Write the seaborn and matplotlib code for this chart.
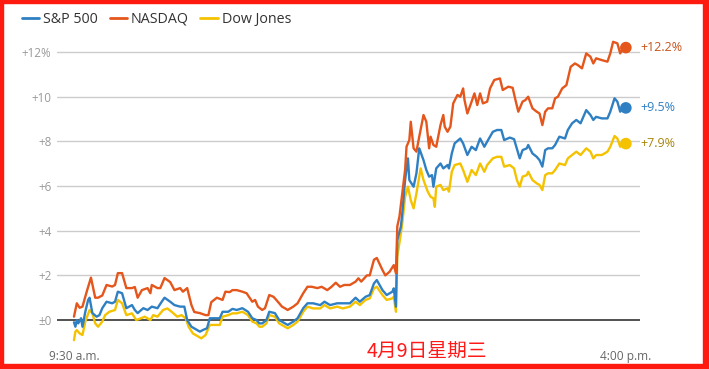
import matplotlib
matplotlib.use("Agg")
import matplotlib.pyplot as plt
import seaborn as sns
import pandas as pd
from matplotlib.lines import Line2D
from matplotlib.patches import Rectangle

# ---------------- data (minutes after 9:30 a.m., % change) ----------------
series_names = ["S&P 500", "NASDAQ", "Dow Jones"]
colors = {"S&P 500": "#2f80c3", "NASDAQ": "#e4561b", "Dow Jones": "#f5c200"}
label_colors = {"S&P 500": "#2f80c3", "NASDAQ": "#c8541c", "Dow Jones": "#a8860a"}

nasdaq_t = [0, 2, 4, 6, 9, 12, 15, 17, 20, 23, 27, 29, 31, 34, 37, 41, 43, 45, 48, 52,
            54, 55, 59, 61, 64, 68, 71, 75, 77, 80, 83, 85, 89, 93, 95, 97, 101, 105, 107, 110,
            112, 115, 119, 122, 126, 128, 130, 133, 135, 138, 141, 143, 147, 149, 151, 155, 158, 162, 165, 168,
            172, 175, 179, 182, 185, 188, 191, 195, 199, 201, 203, 207, 209, 212, 214, 218, 220, 223, 226, 227.5,
            228.5, 230, 232, 234, 235, 237, 238, 240, 242, 244, 247, 249, 251, 252, 254, 256, 259, 261, 262, 264,
            266, 268, 271, 273, 275, 276, 278, 281, 283, 285, 287, 289, 292, 294, 297, 301, 303, 307, 310, 312,
            314, 317, 319, 321, 324, 327, 329, 331, 333, 335, 338, 340, 342, 345, 348, 351, 354, 356, 359, 362,
            365, 367, 369, 373, 377, 379, 381, 384, 386, 388, 390]
nasdaq_v = [0.15, 0.75, 0.55, 0.6, 1.27, 1.9, 1.0, 1.0, 1.1, 1.57, 1.5, 1.57, 2.1, 2.1, 1.43, 1.43, 1.48, 1.0, 1.34, 1.43,
            1.2, 1.57, 1.43, 1.43, 1.88, 1.7, 1.34, 1.43, 1.27, 1.43, 0.67, 0.36, 0.31, 0.22, 0.22, 0.8, 1.0, 0.9, 1.27, 1.25,
            1.34, 1.34, 1.27, 1.2, 0.82, 0.9, 0.6, 0.45, 0.53, 1.12, 1.04, 0.9, 0.6, 0.53, 0.45, 0.6, 0.75, 1.2, 1.49, 1.49,
            1.43, 1.49, 1.34, 1.49, 1.67, 1.49, 1.57, 1.57, 1.72, 1.87, 1.72, 2.0, 2.0, 2.7, 2.78, 2.24, 2.0, 2.16, 2.46, 2.1,
            4.2, 4.63, 5.68, 6.72, 7.76, 8.06, 8.88, 7.69, 7.54, 8.21, 9.18, 8.88, 7.69, 8.21, 7.84, 7.76, 8.73, 9.18, 8.66, 8.43,
            8.66, 9.7, 10.08, 10.0, 10.37, 9.85, 9.25, 9.78, 10.15, 9.63, 10.15, 9.7, 9.78, 10.37, 10.75, 10.82, 10.3, 10.45, 10.4, 9.85,
            9.33, 9.78, 9.85, 10.0, 9.48, 9.33, 9.25, 8.73, 9.33, 9.48, 9.48, 9.93, 10.0, 10.37, 10.52, 11.34, 11.49, 11.42, 11.27, 11.94,
            11.79, 11.49, 11.72, 11.64, 11.57, 11.94, 12.46, 12.39, 11.94, 12.17, 12.2]

sp_t = [0, 1, 2, 3, 5, 6, 8, 10, 11, 13, 16, 18, 20, 23, 27, 29, 31, 34, 37, 41,
        43, 45, 49, 52, 55, 59, 62, 64, 68, 71, 75, 78, 80, 83, 87, 89, 91, 94, 96, 100,
        103, 105, 109, 112, 115, 119, 123, 126, 129, 131, 133, 136, 138, 142, 145, 149, 151, 155, 158, 162,
        165, 169, 174, 177, 181, 186, 190, 195, 199, 202, 206, 209, 212, 214, 218, 221, 225, 226, 227.5, 228.5,
        231, 232, 234, 236, 237, 240, 242, 244, 247, 249, 251, 253, 254, 256, 259, 261, 264, 265, 267, 269,
        273, 275, 278, 281, 284, 287, 290, 292, 296, 299, 302, 304, 308, 311, 314, 315, 317, 320, 321, 324,
        327, 329, 331, 333, 335, 338, 340, 343, 347, 349, 352, 355, 358, 362, 365, 367, 369, 373, 377, 379,
        382, 384, 386, 388, 390]
sp_v = [-0.1, -0.3, 0.0, -0.15, 0.08, -0.3, 0.37, 0.9, 1.0, 0.31, 0.15, 0.22, 0.53, 0.82, 0.75, 0.82, 1.27, 1.2, 0.53, 0.67,
        0.45, 0.31, 0.53, 0.45, 0.6, 0.53, 0.82, 1.0, 0.82, 0.67, 0.6, 0.6, 0.0, -0.3, -0.45, -0.52, -0.45, -0.37, 0.08, 0.08,
        0.08, 0.37, 0.37, 0.5, 0.45, 0.53, 0.37, 0.08, 0.0, -0.15, -0.15, 0.0, 0.37, 0.31, 0.0, -0.15, -0.22, -0.07, 0.08, 0.53,
        0.75, 0.75, 0.67, 0.82, 0.67, 0.75, 0.75, 0.75, 1.0, 0.82, 1.04, 1.12, 1.64, 1.79, 1.34, 1.12, 1.27, 1.42, 0.6, 3.58,
        4.18, 4.78, 6.27, 7.24, 6.27, 5.97, 6.57, 7.69, 7.16, 6.72, 6.42, 6.49, 5.97, 6.79, 7.01, 6.79, 6.94, 6.79, 7.46, 7.91,
        8.13, 7.91, 7.39, 7.76, 7.61, 8.13, 7.76, 7.99, 8.43, 8.51, 8.51, 8.06, 8.17, 8.1, 7.46, 7.24, 7.61, 7.69, 7.84, 7.46,
        7.31, 7.16, 6.87, 7.61, 7.69, 7.69, 7.84, 8.21, 8.13, 8.51, 8.81, 8.96, 8.81, 9.4, 9.18, 8.96, 9.1, 9.03, 9.03, 9.33,
        9.93, 9.78, 9.33, 9.48, 9.5]

dow_t = [0, 1, 2, 4, 6, 8, 11, 13, 15, 17, 20, 22, 25, 29, 31, 34, 37, 41, 44, 47,
         50, 54, 56, 59, 63, 66, 69, 73, 76, 79, 81, 84, 88, 90, 93, 96, 100, 103, 105, 109,
         112, 115, 119, 123, 126, 129, 131, 133, 136, 138, 142, 145, 149, 151, 155, 158, 162, 165, 169, 174,
         177, 181, 186, 190, 195, 199, 202, 206, 209, 212, 214, 218, 221, 225, 226, 227.5, 228.5, 231, 232, 234,
         236, 238, 240, 242, 245, 247, 250, 252, 254, 255, 256, 259, 261, 264, 265, 267, 269, 273, 275, 278,
         281, 284, 287, 290, 292, 296, 299, 302, 304, 308, 311, 313, 315, 317, 320, 321, 324, 327, 329, 331,
         333, 335, 338, 340, 343, 347, 349, 352, 355, 358, 362, 365, 367, 369, 373, 377, 379, 382, 384, 386,
         388, 390]
dow_v = [-0.9, -0.52, -0.45, -0.6, -0.67, -0.07, 0.45, 0.3, -0.15, -0.3, -0.07, 0.22, 0.37, 0.45, 0.9, 0.75, 0.22, 0.3, 0.0, 0.07,
         0.15, 0.0, 0.22, 0.15, 0.45, 0.52, 0.37, 0.15, 0.22, 0.07, -0.3, -0.6, -0.75, -0.82, -0.67, -0.22, -0.22, -0.22, 0.15, 0.22,
         0.3, 0.3, 0.37, 0.22, -0.07, -0.15, -0.3, -0.3, -0.15, 0.22, 0.15, -0.15, -0.3, -0.37, -0.22, -0.07, 0.37, 0.6, 0.52, 0.52,
         0.67, 0.52, 0.6, 0.52, 0.6, 0.82, 0.67, 0.9, 0.97, 1.42, 1.49, 1.12, 0.9, 0.97, 1.04, 0.37, 2.84, 3.88, 4.33, 5.52,
         5.97, 5.37, 5.0, 5.67, 6.79, 6.27, 5.75, 5.52, 5.45, 5.07, 5.97, 6.05, 5.82, 5.9, 5.75, 6.64, 6.94, 7.01, 6.72, 6.19,
         6.72, 6.49, 7.01, 6.64, 6.94, 7.24, 7.31, 7.31, 6.87, 6.94, 6.79, 6.27, 5.97, 6.42, 6.49, 6.64, 6.27, 6.12, 6.05, 5.82,
         6.49, 6.57, 6.57, 6.72, 7.01, 6.94, 7.24, 7.39, 7.54, 7.39, 7.69, 7.54, 7.24, 7.39, 7.39, 7.54, 7.76, 8.24, 8.13, 7.76,
         7.91, 7.9]

end_labels = {"S&P 500": "+9.5%", "NASDAQ": "+12.2%", "Dow Jones": "+7.9%"}
ytick_vals = [0, 2, 4, 6, 8, 10, 12]
ytick_labels = ["±0", "+2", "+4", "+6", "+8", "+10", "+12%"]
xtick_vals = [0, 390]
xtick_labels = ["9:30 a.m.", "4:00 p.m."]
date_text = "4月9日星期三"

# ---------------- build frame ----------------
frames = []
for name, t, v in [("S&P 500", sp_t, sp_v), ("NASDAQ", nasdaq_t, nasdaq_v), ("Dow Jones", dow_t, dow_v)]:
    frames.append(pd.DataFrame({"t": t, "v": v, "index": name}))
df = pd.concat(frames, ignore_index=True)

sns.set_style("white")
plt.rcParams["font.family"] = ["Open Sans", "Noto Sans CJK SC", "DejaVu Sans"]

W, H = 709, 369
fig = plt.figure(figsize=(W / 100, H / 100), dpi=100)
ax = fig.add_axes([57 / W, 1 - 344.6 / H, (640 - 57) / W, (344.6 - 34.2) / H])

# grid lines
for yv in ytick_vals[1:]:
    ax.axhline(yv, color="#cccccc", lw=1.0, zorder=0)
ax.axhline(0, color="#333333", lw=1.2, zorder=1)

# draw order: Dow, S&P, NASDAQ (NASDAQ on top)
for name in ["Dow Jones", "S&P 500", "NASDAQ"]:
    sub = df[df["index"] == name]
    sns.lineplot(data=sub, x="t", y="v", color=colors[name], lw=1.7, ax=ax,
                 estimator=None, sort=False, legend=False, zorder=3)
    ax.scatter([sub["t"].iloc[-1]], [sub["v"].iloc[-1]], s=70, color=colors[name],
               zorder=4, edgecolor="none")
    ax.text(400, sub["v"].iloc[-1], end_labels[name], color=label_colors[name],
            fontsize=9.0, va="center", ha="left", clip_on=False)

ax.set_xlim(-12, 400)
ax.set_ylim(-1.1, 12.8)
ax.set_yticks(ytick_vals)
ax.set_yticklabels(ytick_labels)
ax.set_xticks(xtick_vals)
ax.set_xticklabels(xtick_labels)
ax.tick_params(axis="y", length=0, pad=4, labelsize=8.4, labelcolor="#999999")
ax.tick_params(axis="x", length=0, pad=4, labelsize=8.6, labelcolor="#666666")
ax.set_xlabel("")
ax.set_ylabel("")
for s in ax.spines.values():
    s.set_visible(False)

# legend
handles = [Line2D([0], [0], color=colors[n], lw=2) for n in series_names]
fig.legend(handles, series_names, loc="upper left", bbox_to_anchor=(9 / W, 1 + 1 / H),
           ncol=3, frameon=False, fontsize=10.3, handlelength=1.2, handletextpad=0.3,
           columnspacing=0.8, labelcolor="#333333")

# date annotation
fig.text(427 / W, 1 - 351 / H, date_text, color="#ff1a1a", fontsize=14.2,
         ha="center", va="center", family=["Noto Sans CJK SC", "DejaVu Sans"])

# red frame
red = "#ff1a10"
fig.patches.append(Rectangle((0, 0), 3 / W, 1, transform=fig.transFigure, color=red, zorder=10))
fig.patches.append(Rectangle((0, 1 - 3 / H), 1, 3 / H, transform=fig.transFigure, color=red, zorder=10))
fig.patches.append(Rectangle((1 - 6 / W, 0), 6 / W, 1, transform=fig.transFigure, color=red, zorder=10))
fig.patches.append(Rectangle((0, 0), 1, 5 / H, transform=fig.transFigure, color=red, zorder=10))

fig.savefig("out.png", dpi=100)
